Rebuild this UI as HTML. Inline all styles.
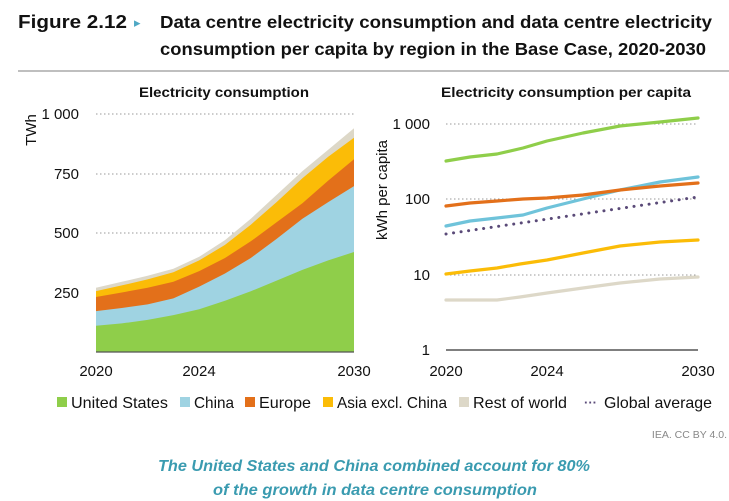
<!DOCTYPE html>
<html><head><meta charset="utf-8"><style>
body{margin:0;background:#fff;width:729px;height:501px;overflow:hidden;font-family:"Liberation Sans",sans-serif}
svg{display:block}
</style></head><body>
<svg id="s" width="729" height="501" xmlns="http://www.w3.org/2000/svg" font-family="Liberation Sans, sans-serif">
<text x="18" y="28" font-size="18" font-weight="bold" fill="#111" textLength="109" lengthAdjust="spacingAndGlyphs">Figure 2.12</text>
<text x="134" y="27" font-size="13" fill="#4fa8c4">▸</text>
<text x="160" y="28" font-size="17.5" font-weight="bold" fill="#111" textLength="552" lengthAdjust="spacingAndGlyphs">Data centre electricity consumption and data centre electricity</text>
<text x="160" y="55" font-size="17.5" font-weight="bold" fill="#111" textLength="546" lengthAdjust="spacingAndGlyphs">consumption per capita by region in the Base Case, 2020-2030</text>
<line x1="18" y1="71" x2="729" y2="71" stroke="#999" stroke-width="1.2"/>
<text x="224" y="97" font-size="14" font-weight="bold" text-anchor="middle" fill="#111" textLength="170" lengthAdjust="spacingAndGlyphs">Electricity consumption</text>
<text x="566" y="97" font-size="14" font-weight="bold" text-anchor="middle" fill="#111" textLength="250" lengthAdjust="spacingAndGlyphs">Electricity consumption per capita</text>
<g stroke="#999" stroke-dasharray="1.5,2.5" stroke-width="1">
<line x1="96" y1="114" x2="354" y2="114"/><line x1="96" y1="174" x2="354" y2="174"/><line x1="96" y1="233" x2="354" y2="233"/>
<line x1="446" y1="124" x2="698" y2="124"/><line x1="446" y1="199" x2="698" y2="199"/><line x1="446" y1="275" x2="698" y2="275"/>
</g>
<g id="areas"></g>
<line x1="96" y1="352" x2="354" y2="352" stroke="#555" stroke-width="1.2"/>
<line x1="446" y1="350" x2="698" y2="350" stroke="#333" stroke-width="1.2"/>
<g font-size="15" fill="#111">
<text x="79" y="119" text-anchor="end">1 000</text><text x="79" y="179" text-anchor="end">750</text><text x="79" y="238" text-anchor="end">500</text><text x="79" y="298" text-anchor="end">250</text>
<text x="36" y="130" transform="rotate(-90 36 130)" text-anchor="middle">TWh</text>
<text x="96" y="376" text-anchor="middle">2020</text><text x="199" y="376" text-anchor="middle">2024</text><text x="354" y="376" text-anchor="middle">2030</text>
<text x="430" y="129" text-anchor="end">1 000</text><text x="430" y="204" text-anchor="end">100</text><text x="430" y="280" text-anchor="end">10</text><text x="430" y="355" text-anchor="end">1</text>
<text x="387" y="190" transform="rotate(-90 387 190)" text-anchor="middle">kWh per capita</text>
<text x="446" y="376" text-anchor="middle">2020</text><text x="547" y="376" text-anchor="middle">2024</text><text x="698" y="376" text-anchor="middle">2030</text>
</g>
<g fill="none" stroke-width="3.2" stroke-linejoin="round" stroke-linecap="round">
<polyline stroke="#ddd8c8" points="446,300 470,300 497,300 520,297 547,293 583,288 620,283 660,279 698,277"/>
<polyline stroke="#fbbc07" points="446,274 470,271 497,268 520,264 547,260 583,253 620,246 660,242 698,240"/>
<polyline stroke="#6fc3da" points="446,226 470,221 497,218 523,215 547,208 583,199 620,190 660,182 698,177"/>
<polyline stroke="#e3701a" points="446,206 470,203 497,201 523,199 547,198 583,195 620,190 660,186 698,183"/>
<polyline stroke="#8fce4a" points="446,161 470,157 497,154 523,148 547,141 583,133 620,126 660,122 698,118"/>
<polyline stroke="#5a4a78" stroke-width="3" stroke-dasharray="0.1,7.5" points="446,234 698,197"/>
</g>
<g font-size="16" fill="#111">
<rect x="57" y="397" width="10" height="10" fill="#8fce4a"/><text x="71" y="408" textLength="97" lengthAdjust="spacingAndGlyphs">United States</text>
<rect x="180" y="397" width="10" height="10" fill="#9fd3e2"/><text x="194" y="408" textLength="40" lengthAdjust="spacingAndGlyphs">China</text>
<rect x="245" y="397" width="10" height="10" fill="#e3701a"/><text x="259" y="408" textLength="52" lengthAdjust="spacingAndGlyphs">Europe</text>
<rect x="323" y="397" width="10" height="10" fill="#fbbc07"/><text x="337" y="408" textLength="110" lengthAdjust="spacingAndGlyphs">Asia excl. China</text>
<rect x="459" y="397" width="10" height="10" fill="#ddd8c8"/><text x="473" y="408" textLength="94" lengthAdjust="spacingAndGlyphs">Rest of world</text>
<text x="584" y="407" font-size="13" fill="#5a4a78" font-weight="bold">···</text><text x="604" y="408" textLength="108" lengthAdjust="spacingAndGlyphs">Global average</text>
</g>
<text x="727" y="438" font-size="10.5" fill="#888" text-anchor="end">IEA. CC BY 4.0.</text>
<text x="158" y="471" font-size="15.5" font-weight="bold" font-style="italic" fill="#3a9bb0" textLength="432" lengthAdjust="spacingAndGlyphs">The United States and China combined account for 80%</text>
<text x="213" y="495" font-size="15.5" font-weight="bold" font-style="italic" fill="#3a9bb0" textLength="324" lengthAdjust="spacingAndGlyphs">of the growth in data centre consumption</text>
</svg>
<script>
var tops=[[110,120,135,155,180,215,255,300,345,385,420],[172,185,200,225,275,330,395,475,560,630,697],[231,250,270,295,340,395,465,545,625,720,810],[256,280,305,335,385,450,535,630,730,820,900],[270,295,320,350,400,470,560,660,760,850,940]];
var cols=["#8fce4a","#9fd3e2","#e3701a","#fbbc07","#ddd8c8"];
var g=document.getElementById("areas"),ns="http://www.w3.org/2000/svg";
function X(i){return 96+25.8*i}function Y(v){return 352-v*0.238}
for(var k=4;k>=0;k--){var d="M96,352";for(var i=0;i<11;i++)d+=" L"+X(i).toFixed(1)+","+Y(tops[k][i]).toFixed(1);d+=" L354,352 Z";
var p=document.createElementNS(ns,"path");p.setAttribute("d",d);p.setAttribute("fill",cols[k]);g.appendChild(p);}
</script>
</body></html>
